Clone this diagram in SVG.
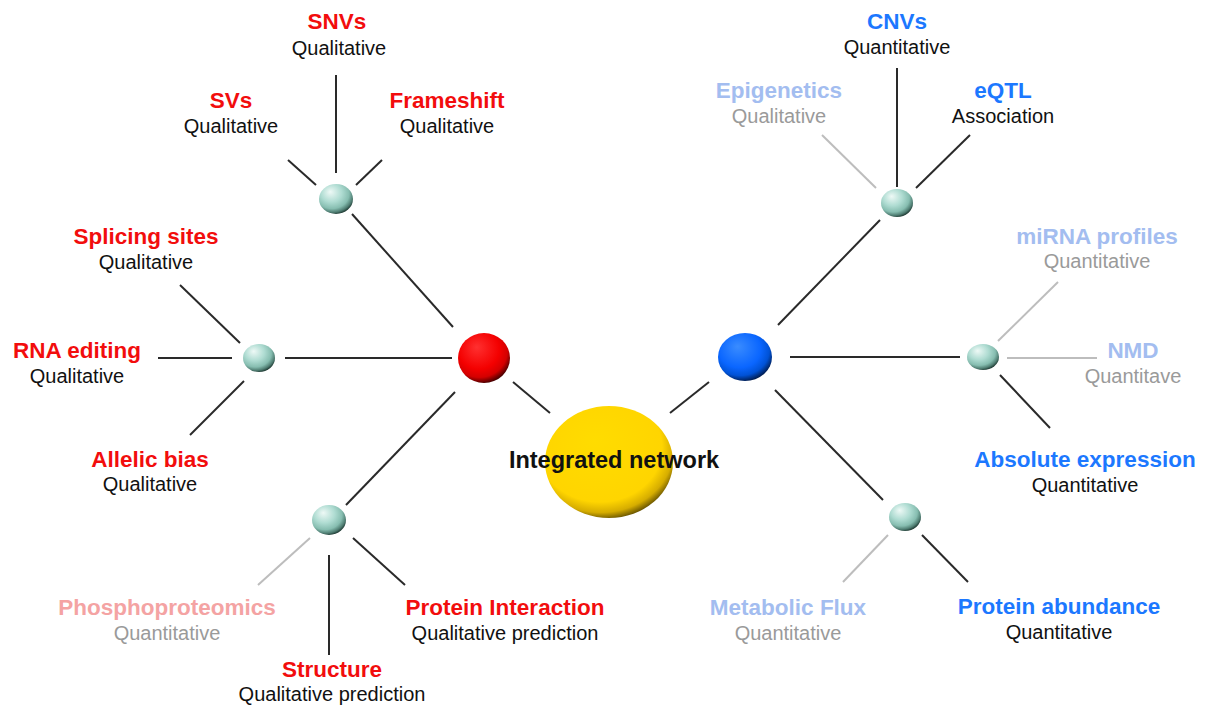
<svg xmlns="http://www.w3.org/2000/svg" width="1205" height="708" viewBox="0 0 1205 708">
  <style>
    .t { font-family: "Liberation Sans", Arial, sans-serif; text-anchor: middle; }
    .h { font-size: 22.5px; font-weight: bold; }
    .s { font-size: 20px; }
    .big { font-size: 23.5px; }
    .red { fill: #f20d0d; }
    .pink { fill: #f4a3a3; }
    .blue { fill: #1c78ff; }
    .lblue { fill: #a3bdf0; }
    .dark { fill: #111; }
    .grey { fill: #9a9a9a; }
    .ln { stroke: #2a2a2a; stroke-width: 2; fill: none; }
    .lt { stroke: #bdbdbd; stroke-width: 2; fill: none; }
  </style>
  <defs>
    <!-- bevelled sphere fills: light upper-left, dark rim lower-right -->
    <radialGradient id="gTeal" cx="0.4" cy="0.34" r="0.68" fx="0.33" fy="0.26">
      <stop offset="0" stop-color="#eef9f6"/>
      <stop offset="0.45" stop-color="#afdcd2"/>
      <stop offset="0.74" stop-color="#86bdb0"/>
      <stop offset="0.9" stop-color="#4f7d72"/>
      <stop offset="1" stop-color="#1f3a33"/>
    </radialGradient>
    <radialGradient id="gRed" cx="0.42" cy="0.36" r="0.66" fx="0.36" fy="0.28">
      <stop offset="0" stop-color="#ff3030"/>
      <stop offset="0.6" stop-color="#f40000"/>
      <stop offset="0.82" stop-color="#d40000"/>
      <stop offset="1" stop-color="#400000"/>
    </radialGradient>
    <radialGradient id="gBlue" cx="0.42" cy="0.36" r="0.66" fx="0.36" fy="0.28">
      <stop offset="0" stop-color="#3a8cff"/>
      <stop offset="0.6" stop-color="#0a66ff"/>
      <stop offset="0.82" stop-color="#0052d6"/>
      <stop offset="1" stop-color="#001a4a"/>
    </radialGradient>
    <radialGradient id="gGold" cx="0.44" cy="0.39" r="0.64" fx="0.39" fy="0.31">
      <stop offset="0" stop-color="#ffdc00"/>
      <stop offset="0.76" stop-color="#ffd500"/>
      <stop offset="0.89" stop-color="#d6ad00"/>
      <stop offset="1" stop-color="#504000"/>
    </radialGradient>
  </defs>

  <rect width="1205" height="708" fill="#ffffff"/>

  <g id="connectors">
    <!-- hubs to centre -->
    <line class="ln" x1="513" y1="382" x2="550" y2="413"/>
    <line class="ln" x1="709" y1="382" x2="670" y2="413"/>
    <!-- red hub branches -->
    <line class="ln" x1="352" y1="214" x2="453" y2="327"/>
    <line class="ln" x1="285" y1="358" x2="452" y2="358"/>
    <line class="ln" x1="346" y1="505" x2="455" y2="392"/>
    <!-- blue hub branches -->
    <line class="ln" x1="778" y1="325" x2="880" y2="220"/>
    <line class="ln" x1="790" y1="357" x2="960" y2="357"/>
    <line class="ln" x1="775" y1="390" x2="883" y2="500"/>
    <!-- upper-left node leaves -->
    <line class="ln" x1="336" y1="75" x2="336" y2="173"/>
    <line class="ln" x1="288" y1="160" x2="316" y2="185"/>
    <line class="ln" x1="356" y1="185" x2="382" y2="160"/>
    <!-- middle-left node leaves -->
    <line class="ln" x1="180" y1="285" x2="240" y2="343"/>
    <line class="ln" x1="158" y1="358" x2="232" y2="358"/>
    <line class="ln" x1="190" y1="435" x2="244" y2="381"/>
    <!-- lower-left node leaves -->
    <line class="lt" x1="258" y1="585" x2="310" y2="538"/>
    <line class="ln" x1="329" y1="555" x2="329" y2="655"/>
    <line class="ln" x1="353" y1="538" x2="405" y2="585"/>
    <!-- upper-right node leaves -->
    <line class="ln" x1="897" y1="68" x2="897" y2="187"/>
    <line class="lt" x1="822" y1="135" x2="876" y2="188"/>
    <line class="ln" x1="916" y1="188" x2="970" y2="135"/>
    <!-- middle-right node leaves -->
    <line class="lt" x1="998" y1="341" x2="1058" y2="282"/>
    <line class="lt" x1="1007" y1="358" x2="1097" y2="358"/>
    <line class="ln" x1="1000" y1="375" x2="1050" y2="428"/>
    <!-- lower-right node leaves -->
    <line class="lt" x1="843" y1="582" x2="888" y2="535"/>
    <line class="ln" x1="922" y1="535" x2="968" y2="582"/>
  </g>

  <g id="center">
    <ellipse cx="609" cy="462" rx="64" ry="56" fill="url(#gGold)"/>
    <text class="t h big dark" x="614" y="468">Integrated network</text>
  </g>
  <g id="hub-red"><ellipse cx="484" cy="358" rx="26" ry="25" fill="url(#gRed)"/></g>
  <g id="hub-blue"><ellipse cx="745" cy="357" rx="27" ry="24" fill="url(#gBlue)"/></g>

  <g id="node-ul"><ellipse cx="336" cy="199" rx="17" ry="15" fill="url(#gTeal)"/></g>
  <g id="node-ml"><ellipse cx="259" cy="358" rx="16" ry="14" fill="url(#gTeal)"/></g>
  <g id="node-ll"><ellipse cx="329" cy="520" rx="17" ry="15" fill="url(#gTeal)"/></g>
  <g id="node-ur"><ellipse cx="897" cy="203" rx="16" ry="14" fill="url(#gTeal)"/></g>
  <g id="node-mr"><ellipse cx="983" cy="357" rx="16" ry="13" fill="url(#gTeal)"/></g>
  <g id="node-lr"><ellipse cx="905" cy="517" rx="16" ry="14" fill="url(#gTeal)"/></g>

  <g id="snvs"><text class="t h red" x="337" y="29">SNVs</text><text class="t s dark" x="339" y="55">Qualitative</text></g>
  <g id="svs"><text class="t h red" x="231" y="108">SVs</text><text class="t s dark" x="231" y="133">Qualitative</text></g>
  <g id="frameshift"><text class="t h red" x="447" y="108">Frameshift</text><text class="t s dark" x="447" y="133">Qualitative</text></g>
  <g id="splicing"><text class="t h red" x="146" y="244">Splicing sites</text><text class="t s dark" x="146" y="269">Qualitative</text></g>
  <g id="rna-editing"><text class="t h red" x="77" y="358">RNA editing</text><text class="t s dark" x="77" y="383">Qualitative</text></g>
  <g id="allelic"><text class="t h red" x="150" y="467">Allelic bias</text><text class="t s dark" x="150" y="491">Qualitative</text></g>
  <g id="phospho"><text class="t h pink" x="167" y="615">Phosphoproteomics</text><text class="t s grey" x="167" y="640">Quantitative</text></g>
  <g id="structure"><text class="t h red" x="332" y="677">Structure</text><text class="t s dark" x="332" y="701">Qualitative prediction</text></g>
  <g id="protein-interaction"><text class="t h red" x="505" y="615">Protein Interaction</text><text class="t s dark" x="505" y="640">Qualitative prediction</text></g>

  <g id="cnvs"><text class="t h blue" x="897" y="29">CNVs</text><text class="t s dark" x="897" y="54">Quantitative</text></g>
  <g id="epigenetics"><text class="t h lblue" x="779" y="98">Epigenetics</text><text class="t s grey" x="779" y="123">Qualitative</text></g>
  <g id="eqtl"><text class="t h blue" x="1003" y="98">eQTL</text><text class="t s dark" x="1003" y="123">Association</text></g>
  <g id="mirna"><text class="t h lblue" x="1097" y="244">miRNA profiles</text><text class="t s grey" x="1097" y="268">Quantitative</text></g>
  <g id="nmd"><text class="t h lblue" x="1133" y="358">NMD</text><text class="t s grey" x="1133" y="383">Quantitave</text></g>
  <g id="absolute"><text class="t h blue" x="1085" y="467">Absolute expression</text><text class="t s dark" x="1085" y="492">Quantitative</text></g>
  <g id="metabolic"><text class="t h lblue" x="788" y="615">Metabolic Flux</text><text class="t s grey" x="788" y="640">Quantitative</text></g>
  <g id="protein-abundance"><text class="t h blue" x="1059" y="614">Protein abundance</text><text class="t s dark" x="1059" y="639">Quantitative</text></g>
</svg>
